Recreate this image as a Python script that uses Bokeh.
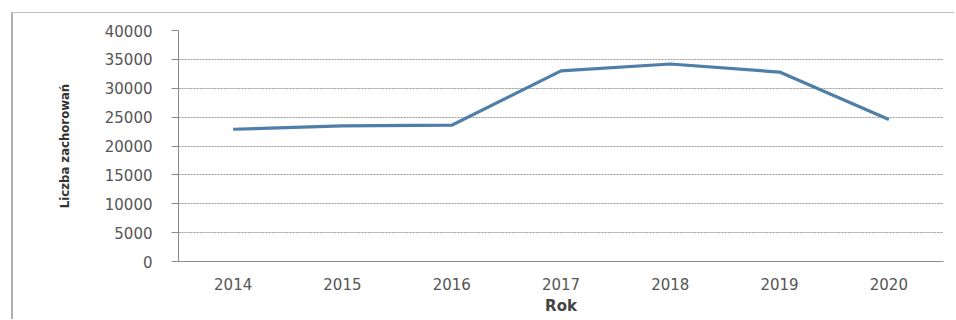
from bokeh.plotting import figure
from bokeh.models import Range1d, FactorRange, FixedTicker
from bokeh.embed import file_html
from bokeh.resources import INLINE

years = ["2014", "2015", "2016", "2017", "2018", "2019", "2020"]
cases = [22900, 23500, 23600, 33000, 34200, 32800, 24600]
y_ticks = [0, 5000, 10000, 15000, 20000, 25000, 30000, 35000, 40000]

p = figure(width=943, height=307, output_backend="svg", toolbar_location=None,
           x_range=FactorRange(*years), y_range=Range1d(0, 40000),
           min_border_left=165, min_border_top=17, min_border_right=13, min_border_bottom=59)
p.styles = {"border-left": "2px solid #b0b0b0", "border-top": "1px solid #c0c0c0",
            "margin-left": "11px", "margin-top": "12px"}
p.outline_line_color = None
p.background_fill_color = "white"
p.border_fill_color = "white"

p.line(x=years, y=cases, line_color="#4f7fa8", line_width=3.2)

p.yaxis.ticker = FixedTicker(ticks=y_ticks)
p.yaxis.axis_line_color = "#8c8c8c"
p.yaxis.major_tick_line_color = "#8c8c8c"
p.yaxis.major_tick_out = 7
p.yaxis.major_tick_in = 0
p.yaxis.minor_tick_line_color = None
p.yaxis.major_label_standoff = 19
p.yaxis.major_label_text_font = "DejaVu Sans"
p.yaxis.major_label_text_font_size = "15px"
p.yaxis.major_label_text_color = "#555555"
p.yaxis.axis_label = "Liczba zachorowań"
p.yaxis.axis_label_text_font = "'DejaVu Sans Condensed', 'Liberation Sans Narrow', 'Liberation Sans'"
p.yaxis.axis_label_text_font_style = "bold"
p.yaxis.axis_label_text_font_size = "13px"
p.yaxis.axis_label_text_color = "#333333"
p.yaxis.axis_label_standoff = 30

p.xaxis.axis_line_color = "#8c8c8c"
p.xaxis.major_tick_line_color = None
p.xaxis.minor_tick_line_color = None
p.xaxis.major_label_standoff = 10
p.xaxis.major_label_text_font = "DejaVu Sans"
p.xaxis.major_label_text_font_size = "15px"
p.xaxis.major_label_text_color = "#555555"
p.xaxis.axis_label = "Rok"
p.xaxis.axis_label_text_font = "DejaVu Sans"
p.xaxis.axis_label_text_font_style = "bold"
p.xaxis.axis_label_text_font_size = "15px"
p.xaxis.axis_label_text_color = "#444444"
p.xaxis.axis_label_standoff = 4

p.xgrid.grid_line_color = None
p.ygrid.grid_line_color = "#999999"
p.ygrid.grid_line_dash = "2 1"
p.ygrid.grid_line_width = 1

open("out.html", "w").write(file_html(p, INLINE))
